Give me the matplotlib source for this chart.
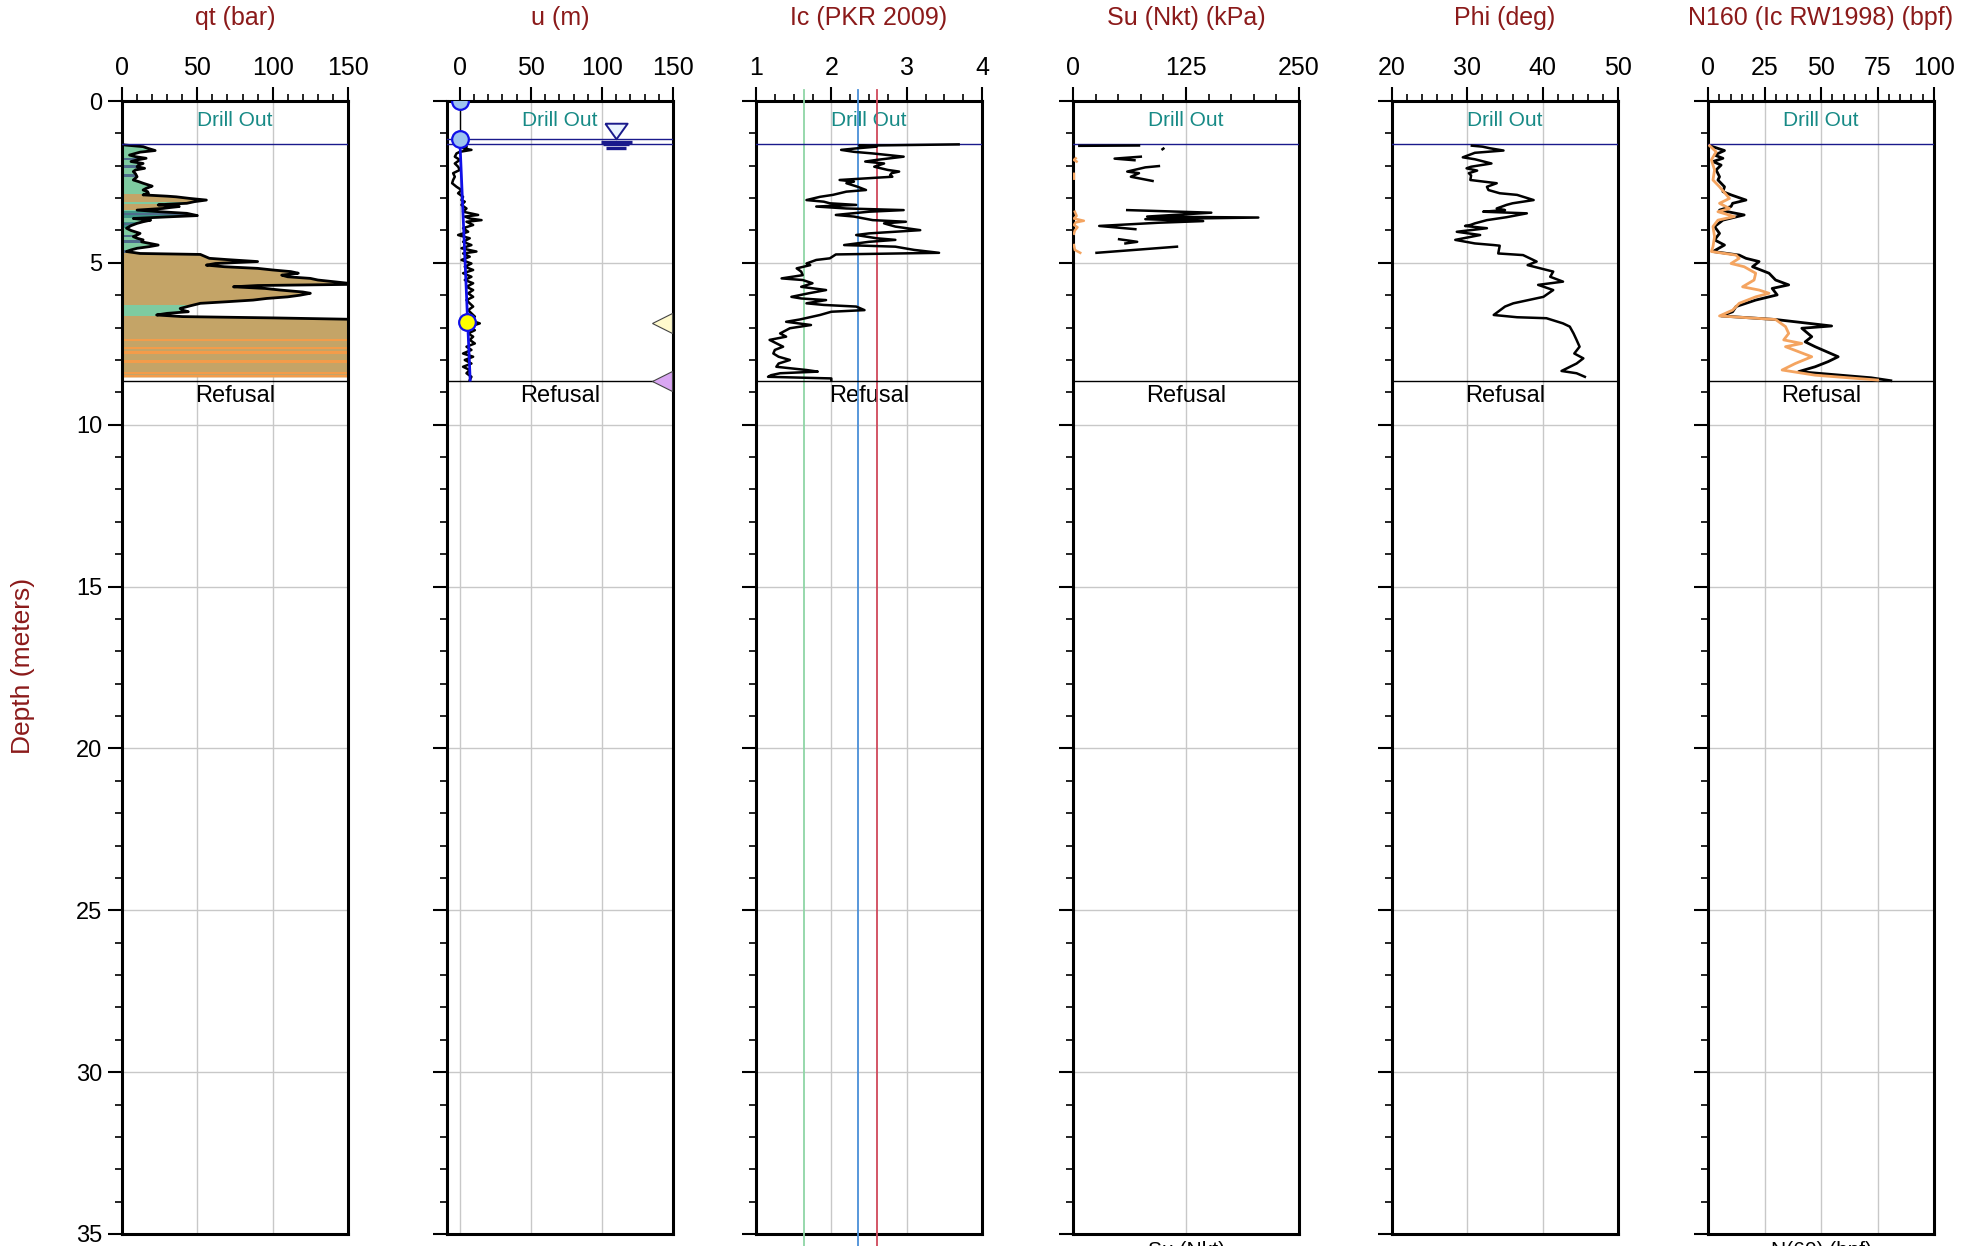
import numpy as np
import matplotlib
matplotlib.use("Agg")
import matplotlib.pyplot as plt
from matplotlib.patches import Rectangle
from matplotlib.ticker import MultipleLocator

plt.rcParams['font.family'] = ['Liberation Sans', 'DejaVu Sans']

NaN = np.nan

# ---------------- data ----------------
titles = ["qt (bar)", "u (m)", "Ic (PKR 2009)", "Su (Nkt) (kPa)", "Phi (deg)", "N160 (Ic RW1998) (bpf)"]
x_limits = [(0, 150), (-9, 150), (1, 4), (0, 250), (20, 50), (0, 100)]
x_major = [50, 50, 1, 125, 10, 25]
x_minor = [10, 10, 0.25, 25, 2, 5]

drill_out_depth = 1.34
refusal_depth = 8.65

# qt (bar)
qt_depth = [1.34, 1.36, 1.41, 1.46, 1.53, 1.58, 1.67, 1.72, 1.77, 1.82, 1.87, 1.93, 1.98, 2.03, 2.08, 2.13,
            2.18, 2.25, 2.34, 2.44, 2.49, 2.54, 2.60, 2.63, 2.70, 2.75, 2.80, 2.85, 2.90, 2.94, 2.96, 3.01,
            3.06, 3.11, 3.16, 3.19, 3.21, 3.26, 3.29, 3.32, 3.37, 3.42, 3.47, 3.54, 3.58, 3.63, 3.68, 3.73,
            3.78, 3.85, 3.93, 4.00, 4.09, 4.14, 4.19, 4.24, 4.29, 4.35, 4.45, 4.50, 4.55, 4.60, 4.65, 4.71,
            4.74, 4.80, 4.86, 4.90, 4.96, 5.02, 5.07, 5.12, 5.17, 5.22, 5.27, 5.32, 5.38, 5.43, 5.48, 5.53,
            5.58, 5.63, 5.66, 5.70, 5.74, 5.79, 5.84, 5.90, 5.94, 6.00, 6.05, 6.10, 6.15, 6.20, 6.25, 6.33,
            6.41, 6.46, 6.51, 6.56, 6.61, 6.66, 6.70, 6.75, 6.90, 7.10, 7.30, 7.50, 7.70, 7.90, 8.10, 8.30,
            8.50, 8.52]
qt_val = [0, 2, 14, 17, 22, 12, 5, 9, 16, 10, 6, 14, 11, 10, 15, 9,
          7.5, 9, 10, 7.5, 11, 14, 18, 20, 16, 14, 17, 17.5, 14, 30, 36, 45,
          56, 48, 43, 30, 24, 38, 32, 27, 10, 25, 43, 50, 30, 7.5, 19, 14,
          10, 6, 3, 6, 12, 10, 7.5, 10, 14, 13, 24, 18, 10, 6, 3, 12,
          52, 55, 58, 70, 90, 62, 56, 68, 90, 100, 112, 117, 106, 110, 125, 130,
          140, 150, 160, 90, 74, 95, 105, 120, 125, 118, 110, 96, 87, 70, 52, 45,
          38.6, 40, 44, 30, 23, 40, 100, 160, 175, 190, 200, 185, 210, 195, 220, 205,
          230, 230]

# soil behaviour bands under the qt curve
band_top = [1.34, 1.75, 1.99, 2.27, 2.88, 3.12, 3.37, 3.40, 3.45, 3.73, 3.78, 4.14, 4.29, 4.60, 4.71,
            6.30, 6.64, 7.34, 7.59, 7.73, 8.01, 8.36, 8.47]
band_bot = [2.88, 1.79, 2.03, 2.31, 3.37, 3.16, 4.71, 3.57, 3.49, 3.88, 3.81, 4.18, 4.35, 4.69, 6.30,
            6.64, 8.52, 7.38, 7.63, 7.77, 8.05, 8.40, 8.52]
band_kind = ["green", "slate", "slate", "slate", "tan", "green", "green", "teal", "slate", "teal", "slate",
             "slate", "slate", "slate", "tan", "green", "tan", "orange", "orange", "orange", "orange",
             "orange", "orange"]
band_colors = {"green": "#7ECBA1", "tan": "#C4A467", "slate": "#4E6C8C", "teal": "#3E9587",
               "orange": "#F39C4A"}

# u (m)
u_depth = [1.41, 1.46, 1.51, 1.57, 1.62, 1.72, 1.82, 1.93, 2.03, 2.13, 2.23, 2.34, 2.44, 2.54, 2.65, 2.75,
           2.85, 2.96, 3.06, 3.11, 3.21, 3.32, 3.42, 3.52, 3.57, 3.63, 3.68, 3.73, 3.83, 3.93, 4.04, 4.14,
           4.24, 4.35, 4.45, 4.55, 4.65, 4.71, 4.81, 4.91, 5.02, 5.12, 5.22, 5.32, 5.43, 5.53, 5.63, 5.74,
           5.84, 5.94, 6.05, 6.15, 6.25, 6.35, 6.46, 6.56, 6.66, 6.77, 6.87, 6.97, 7.08, 7.18, 7.28, 7.38,
           7.49, 7.59, 7.69, 7.80, 7.90, 8.00, 8.11, 8.21, 8.31, 8.41, 8.52, 8.62]
u_val = [4.7, 2.3, 8.2, 0, -2.3, -3.5, 0, -3.5, -1.2, 0, -4.7, -3.5, -4.7, -5.4, -2.3, 1.2,
         -1.2, 2.3, 1.2, 3.5, 1.2, 4.7, 2.3, 12.9, 3.5, 7, 15.3, 4.7, 9.4, 2.3, 5.9, -1.2,
         7, 2.3, 8.2, 1.2, 11.7, 2.3, 7, 1.2, 8.2, 3.5, 9.4, 2.3, 8.2, 3.5, 9.4, 4.7,
         9.4, 5.9, 9.4, 4.7, 7, 9.4, 5.9, 8.2, 10.6, 7, 14.1, 7, 10.6, 5.9, 9.4, 7,
         10.6, 4.7, 8.2, 2.3, 9.4, 3.5, 8.2, 2.3, 7, 4.7, 8.2, 7]
hydro_depth = [1.17, 8.62]
hydro_u = [0, 7.3]
water_table_depth = 1.17
water_table_x = 110
dissip_blue_depth = [0.0, 1.17]
dissip_blue_u = [0, 0]
dissip_yellow_depth = [6.84]
dissip_yellow_u = [5.4]
flag_yellow_depth = 6.87
flag_violet_depth = 8.65

# Ic
ic_bounds = [1.64, 2.35, 2.6]
ic_bound_colors = ["#8FD6A6", "#4A8FD8", "#D0485A"]
ic_depth = [1.34, 1.38, 1.41, 1.46, 1.51, 1.57, 1.62, 1.72, 1.82, 1.87, 1.93, 2.03, 2.13, 2.18, 2.23, 2.29,
            2.34, 2.44, 2.49, 2.54, 2.65, 2.75, 2.80, 2.90, 2.96, 3.06, 3.11, 3.16, 3.21, 3.26, 3.32, 3.37,
            3.42, 3.52, 3.57, 3.68, 3.73, 3.78, 3.88, 3.99, 4.09, 4.14, 4.24, 4.29, 4.35, 4.45, 4.50, 4.60,
            4.69, 4.74, 4.86, 4.91, 5.02, 5.07, 5.17, 5.27, 5.38, 5.48, 5.53, 5.63, 5.74, 5.84, 5.94, 6.05,
            6.10, 6.15, 6.25, 6.30, 6.35, 6.46, 6.51, 6.61, 6.75, 6.82, 6.92, 7.02, 7.18, 7.28, 7.38, 7.59,
            7.69, 7.80, 7.90, 8.00, 8.11, 8.21, 8.31, 8.36, 8.41, 8.47, 8.52, 8.57, 8.62]
ic_val = [3.69, 2.37, 2.6, 2.35, 2.13, 2.3, 2.55, 2.96, 2.6, 2.45, 2.7, 2.57, 2.75, 2.9, 2.8, 2.78,
          2.81, 2.11, 2.3, 2.2, 2.35, 2.46, 2.2, 2.02, 1.85, 1.67, 1.9, 1.98, 2.33, 1.80, 2.2, 2.96,
          2.5, 2.06, 2.3, 2.55, 2.99, 2.7, 2.85, 3.18, 2.5, 2.33, 2.6, 2.85, 2.5, 2.17, 2.85, 3.1,
          3.43, 2.06, 1.98, 1.8, 1.67, 1.72, 1.54, 1.6, 1.62, 1.34, 1.62, 1.75, 1.6, 1.93, 1.7, 1.47,
          1.6, 1.93, 1.67, 1.9, 2.33, 2.44, 2.0, 1.85, 1.58, 1.40, 1.73, 1.45, 1.32, 1.40, 1.18, 1.36,
          1.25, 1.23, 1.30, 1.45, 1.30, 1.27, 1.67, 1.82, 1.32, 1.2, 1.16, 2.0, 2.0]

# Su (kPa)
su_depth = [1.375, 1.385, NaN, 1.47, 1.49, NaN, 1.72, 1.78, 1.83, NaN, 2.01, 2.05, 2.18, 2.23, 2.34, 2.47,
            NaN, 3.37, 3.45, 3.57, 3.60, 3.65, 3.71, 3.76, 3.86, 3.96, NaN, 4.27, 4.35, 4.40, NaN, 4.50, 4.69]
su_val = [73, 7, NaN, 100, 99, NaN, 75, 46, 68, NaN, 95, 80, 60, 73, 64, 88,
          NaN, 60, 153, 82, 205, 80, 144, 95, 29, 69, NaN, 51, 71, 58, NaN, 115, 26]
su2_depth = [1.77, 1.82, 1.87, NaN, 2.25, 2.40, NaN, 3.42, 3.55, 3.63, 3.70, 3.75, 3.83, 3.90, 4.00, 4.10,
             NaN, 4.45, 4.60, 4.69]
su2_val = [3, 1, 4, NaN, 1, 1, NaN, 2, 4, 1, 12, 3, 1, 5, 2, 1, NaN, 1, 2, 8]

# Phi (deg)
phi_depth = [1.38, 1.41, 1.46, 1.53, 1.60, 1.74, 1.80, 1.93, 2.03, 2.08, 2.15, 2.23, 2.30, 2.44, 2.54, 2.65,
             2.75, 2.85, 2.90, 3.06, 3.16, 3.21, 3.32, 3.37, 3.42, 3.47, 3.59, 3.68, 3.78, 3.83, 3.86, 3.93,
             4.04, 4.14, 4.29, 4.40, 4.45, 4.47, 4.71, 4.76, 4.96, 5.07, 5.27, 5.43, 5.58, 5.68, 5.84, 6.05,
             6.25, 6.35, 6.61, 6.68, 6.71, 6.87, 6.97, 7.18, 7.38, 7.59, 7.80, 7.95, 8.11, 8.26, 8.34, 8.41,
             8.52]
phi_val = [30.6, 32, 33.0, 34.8, 31, 29.4, 31, 33.2, 30.5, 29.9, 31.3, 30.2, 30.5, 30.4, 33.9, 32.6,
           32.8, 34.3, 36.6, 38.8, 36, 35.2, 33.9, 35, 32.1, 37.9, 35.2, 32.6, 31, 30.4, 29.7, 32.6,
           28.6, 31.7, 28.4, 31, 33.5, 34.3, 34.1, 37.4, 39.2, 38, 41.4, 41.0, 42.7, 39.4, 41.4, 40.1,
           36.1, 35, 33.5, 36.6, 40.5, 42.7, 43.6, 44.1, 44.5, 44.9, 44.2, 45.4, 44.5, 43.2, 42.5, 44.5,
           45.6]

# N160 (bpf)
n160_depth = [1.38, 1.53, 1.67, 1.77, 1.87, 1.98, 2.13, 2.34, 2.44, 2.65, 2.80, 2.90, 3.06, 3.16, 3.26, 3.37,
              3.52, 3.68, 3.88, 4.09, 4.29, 4.45, 4.65, 4.76, 4.86, 4.96, 5.12, 5.32, 5.53, 5.68, 5.79, 5.99,
              6.15, 6.35, 6.51, 6.64, 6.75, 6.95, 7.02, 7.28, 7.44, 7.59, 7.90, 8.05, 8.21, 8.36, 8.55, 8.64]
n160_val = [0.7, 7.3, 2.9, 6.6, 2.2, 5.8, 3.6, 5.1, 4.4, 7.3, 6.6, 10.2, 16.8, 10.9, 10.2, 5.1,
            16.0, 6.6, 2.9, 5.1, 2.9, 7.3, 2.2, 13.8, 16.8, 22.6, 19.7, 27, 29.9, 35.7, 28.4, 30.6,
            21.1, 12.4, 10.9, 5.8, 29.9, 54.7, 41.5, 45.9, 43, 47.4, 57.6, 53.2, 47.4, 40.1, 72.2, 80.9]
n60_depth = [1.38, 1.57, 1.82, 2.13, 2.44, 2.65, 3.01, 3.16, 3.32, 3.42, 3.57, 3.68, 3.88, 4.19, 4.50, 4.65,
             4.76, 4.86, 5.02, 5.12, 5.32, 5.53, 5.74, 5.84, 5.94, 6.05, 6.25, 6.46, 6.64, 6.75, 6.97, 7.18,
             7.38, 7.49, 7.59, 7.90, 8.11, 8.31, 8.47, 8.62]
n60_val = [0.7, 3.6, 1.5, 2.9, 2.2, 5.1, 9.5, 5.1, 9.5, 4.4, 11.7, 4.4, 2.2, 2.9, 2.2, 1.5,
           12.4, 13.8, 10.2, 16, 21.1, 20.4, 15.3, 22.6, 27, 21.1, 13.8, 10.9, 5.1, 29.9, 34.3, 35.7,
           33.5, 41.5, 34.3, 45.9, 38.6, 32.8, 47.4, 75]

# ---------------- layout / style ----------------
W, H = 1982, 1246
fig = plt.figure(figsize=(W / 100, H / 100), dpi=100)
lefts_px = [122, 447, 756, 1073, 1392, 1708]
ax_w_px = 226
top_px, bot_px = 101, 1234
title_color = "#8B1A1A"
teal_text = "#178A86"
navy = "#1A1A8C"

axes = []
for i, lp in enumerate(lefts_px):
    ax = fig.add_axes([lp / W, 1 - bot_px / H, ax_w_px / W, (bot_px - top_px) / H])
    axes.append(ax)
    ax.set_xlim(*x_limits[i])
    ax.set_ylim(35, 0)
    ax.xaxis.set_major_locator(MultipleLocator(x_major[i]))
    ax.xaxis.set_minor_locator(MultipleLocator(x_minor[i]))
    ax.yaxis.set_major_locator(MultipleLocator(5))
    ax.yaxis.set_minor_locator(MultipleLocator(1))
    ax.xaxis.tick_top()
    ax.tick_params(axis='x', which='both', top=True, bottom=False, labeltop=True, labelbottom=False,
                   direction='out', labelsize=18, pad=5, width=1.5, color='black')
    ax.tick_params(axis='x', which='major', length=10)
    ax.tick_params(axis='x', which='minor', length=5, width=1.2)
    ax.tick_params(axis='y', which='both', left=True, right=False, direction='out', labelsize=17,
                   pad=4, width=1.5, labelleft=(i == 0))
    ax.tick_params(axis='y', which='major', length=10)
    ax.tick_params(axis='y', which='minor', length=5, width=1.2)
    ax.set_axisbelow(True)
    ax.grid(True, which='major', color='#C8C8C8', lw=1.0)
    for s in ax.spines.values():
        s.set_linewidth(2.2)
        s.set_color('black')
    ax.text(0.5, 1.073, titles[i], transform=ax.transAxes, ha='center', va='center',
            fontsize=18, color=title_color)
    xl = x_limits[i]
    xm = 0.5 * (xl[0] + xl[1])
    ax.plot(xl, [drill_out_depth, drill_out_depth], color=navy, lw=1.0, zorder=4)
    ax.plot(xl, [refusal_depth, refusal_depth], color='black', lw=1.0, zorder=4)
    ax.text(xm, 0.61, "Drill Out", ha='center', va='center', fontsize=15, color=teal_text)
    ax.text(xm, 9.1, "Refusal", ha='center', va='center', fontsize=17, color='black')

# panel 1: qt
ax = axes[0]
for top, bot, kind in zip(band_top, band_bot, band_kind):
    poly = ax.fill_betweenx(qt_depth, 0, qt_val, color=band_colors[kind], lw=0, zorder=2)
    rect = Rectangle((0, top), 150, bot - top, transform=ax.transData)
    poly.set_clip_path(rect)
ax.plot(qt_val, qt_depth, color='black', lw=2.0, zorder=3)

# panel 2: u
ax = axes[1]
ax.plot([0, 0], [dissip_blue_depth[0], dissip_blue_depth[1]], color='black', lw=1.0, zorder=3)
ax.plot(u_val, u_depth, color='black', lw=1.8, zorder=3)
ax.plot(hydro_u, hydro_depth, color='#1010E8', lw=2.0, zorder=4)
ax.plot([-9, 150], [water_table_depth, water_table_depth], color=navy, lw=1.0, zorder=4)
ax.plot(dissip_blue_u, dissip_blue_depth, 'o', ms=12, mfc='#9DC3F0', mec='#1010E8', mew=1.6, zorder=5,
        ls='none')
ax.plot(dissip_yellow_u, dissip_yellow_depth, 'o', ms=12, mfc='#FFFF00', mec='#1010E8', mew=1.6,
        zorder=5, ls='none')
wt_marker = [(-1, 0.7), (1, 0.7), (0, -0.7), (-1, 0.7)]
ax.plot([water_table_x], [water_table_depth - 0.24], marker=wt_marker, ms=16, mfc='#EAF4FF', mec=navy,
        mew=1.4, ls='none', zorder=5)
for off, half in [(0.09, 11), (0.16, 9), (0.29, 7)]:
    ax.plot([water_table_x - half, water_table_x + half], [water_table_depth + off] * 2, color=navy,
            lw=2.4, solid_capstyle='butt', zorder=5)
ax.plot([142], [flag_yellow_depth], marker='<', ms=15, mfc='#FFFACD', mec='#444444', mew=0.8,
        ls='none', clip_on=False, zorder=5)
ax.plot([142], [flag_violet_depth], marker='<', ms=15, mfc='#D9A6F2', mec='#444444', mew=0.8,
        ls='none', clip_on=False, zorder=5)

# panel 3: Ic
ax = axes[2]
for b, c in zip(ic_bounds, ic_bound_colors):
    ax.plot([b, b], [-0.34, 36.5], color=c, lw=1.3, clip_on=False, zorder=3)
ax.plot(ic_val, ic_depth, color='black', lw=1.8, zorder=4)

# panel 4: Su
ax = axes[3]
ax.plot(su2_val, su2_depth, color='#F4A460', lw=1.8, zorder=3)
ax.plot(su_val, su_depth, color='black', lw=1.8, zorder=4)

# panel 5: Phi
ax = axes[4]
ax.plot(phi_val, phi_depth, color='black', lw=1.8, zorder=4)

# panel 6: N160
ax = axes[5]
ax.plot(n160_val, n160_depth, color='black', lw=2.0, zorder=3)
ax.plot(n60_val, n60_depth, color='#F4A460', lw=2.0, zorder=4)

# labels
fig.text(23 / W, 1 - 666 / H, "Depth (meters)", rotation=90, ha='center', va='center', fontsize=19,
         color=title_color)
fig.text((1073 + 113) / W, 1 - 1241 / H, "Su (Nkt)", ha='center', va='top', fontsize=15)
fig.text((1708 + 113) / W, 1 - 1241 / H, "N(60) (bpf)", ha='center', va='top', fontsize=15)

fig.savefig("out.png", dpi=100)
